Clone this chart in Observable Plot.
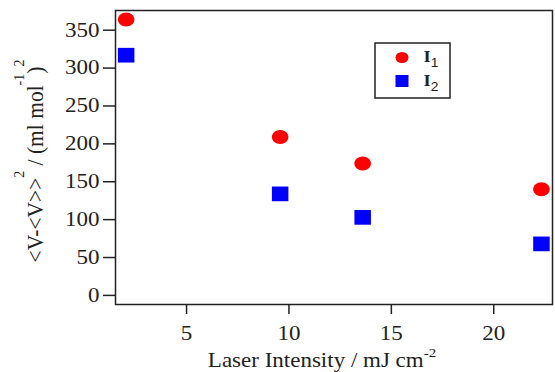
<!DOCTYPE html>
<html>
<head>
<meta charset="utf-8">
<script src="https://cdn.jsdelivr.net/npm/d3@7"></script>
<script src="https://cdn.jsdelivr.net/npm/@observablehq/plot@0.6"></script>
<style>
  html, body { margin: 0; padding: 0; background: #fff; }
</style>
</head>
<body>
<div id="chart"></div>
<script>
const intensity = [2.05, 9.57, 13.6, 22.33];
const I1 = [364, 209, 174, 140];
const I2 = [317, 134, 103, 68];
const xTicks = [5, 10, 15, 20];
const yTicks = [0, 50, 100, 150, 200, 250, 300, 350];
const seriesNames = ["I1", "I2"];

const data = [];
intensity.forEach((x, i) => {
  data.push({x, y: I1[i], s: "I1"});
  data.push({x, y: I2[i], s: "I2"});
});

const K = 0.5523;
const ellipseSym = {
  draw(ctx, size) {
    const r = Math.sqrt(size / Math.PI);
    const rx = r * 1.18, ry = r;
    ctx.moveTo(rx, 0);
    ctx.bezierCurveTo(rx, ry * K, rx * K, ry, 0, ry);
    ctx.bezierCurveTo(-rx * K, ry, -rx, ry * K, -rx, 0);
    ctx.bezierCurveTo(-rx, -ry * K, -rx * K, -ry, 0, -ry);
    ctx.bezierCurveTo(rx * K, -ry, rx, -ry * K, rx, 0);
    ctx.closePath();
  }
};
const rectSym = {
  draw(ctx, size) {
    const r = Math.sqrt(size / Math.PI);
    const hw = r * 1.18, hh = r * 1.05;
    ctx.rect(-hw, -hh, 2 * hw, 2 * hh);
  }
};

const font = "'Liberation Serif', 'Times New Roman', Times, serif";
const sans = "'Liberation Sans', Arial, sans-serif";
const STRETCH = 1.15;

const W = 555, H = 372;
const chart = Plot.plot({
  width: W, height: H,
  marginLeft: 115, marginRight: 3, marginTop: 10, marginBottom: 68,
  style: {fontFamily: font, fontSize: "20px", color: "#222", background: "#fff"},
  x: {domain: [1.53, 22.87]},
  y: {domain: [-12, 376]},
  marks: [
    Plot.axisX({ticks: xTicks, tickSize: 10, tickPadding: 11, strokeWidth: 1.5, label: null, tickFormat: d => String(d), fontFamily: font}),
    Plot.axisY({ticks: yTicks, tickSize: 12, tickPadding: 4, strokeWidth: 1.5, label: null, tickFormat: d => String(d), fontFamily: font}),
    Plot.dot(data.filter(d => d.s === "I1"), {x: "x", y: "y", r: 7, symbol: ellipseSym, fill: "#ff0000", stroke: "none"}),
    Plot.dot(data.filter(d => d.s === "I2"), {x: "x", y: "y", r: 7, symbol: rectSym, fill: "#0000ff", stroke: "none"}),
    Plot.frame({stroke: "#222", strokeWidth: 1.5})
  ]
});
document.getElementById("chart").appendChild(chart);

const svg = d3.select(chart);

// horizontally stretched lettering, as in the reference
svg.selectAll("g[aria-label$='tick label'] text").each(function () {
  const t = this.getAttribute("transform") || "";
  this.setAttribute("transform", t + ` scale(${STRETCH},1)`);
});

// Y axis label
const yl = svg.append("text")
  .attr("transform", `translate(43,161) rotate(-90) scale(1,1.07)`)
  .attr("text-anchor", "middle")
  .style("font-family", font).attr("font-size", 21.5).attr("fill", "#222");
yl.append("tspan").text("<V-<V>>");
yl.append("tspan").attr("font-size", 14).attr("dy", -18).text("2");
yl.append("tspan").attr("dy", 18).text(" / (ml mol");
yl.append("tspan").attr("font-size", 14).attr("dy", -18).text("-1");
yl.append("tspan").attr("dy", 18).text(")");
yl.append("tspan").attr("font-size", 14).attr("dy", -18).text("2");

// X axis label
const xl = svg.append("text")
  .attr("transform", `translate(322,367) scale(${STRETCH},1)`)
  .attr("text-anchor", "middle")
  .style("font-family", font).attr("font-size", 20).attr("fill", "#222");
xl.append("tspan").text("Laser Intensity / mJ cm");
xl.append("tspan").attr("font-size", 13).attr("dy", -10).text("-2");

// Legend
const lg = svg.append("g");
lg.append("rect").attr("x", 375).attr("y", 43).attr("width", 75).attr("height", 55)
  .attr("fill", "#fff").attr("stroke", "#222").attr("stroke-width", 1.5);
lg.append("ellipse").attr("cx", 402).attr("cy", 57.5).attr("rx", 6.5).attr("ry", 5.5).attr("fill", "#ff0000");
lg.append("rect").attr("x", 395.5).attr("y", 75).attr("width", 13).attr("height", 12).attr("fill", "#0000ff");
seriesNames.forEach((name, i) => {
  const t = lg.append("text").attr("transform", `translate(431,${62 + i * 24}) scale(${STRETCH},1)`)
    .style("font-family", font).attr("font-size", 16).attr("font-weight", "bold").attr("fill", "#222");
  t.append("tspan").text(name[0]);
  t.append("tspan").style("font-family", sans).attr("font-weight", "normal")
    .attr("font-size", 12).attr("dy", 5).text(name.slice(1));
});
</script>
</body>
</html>
